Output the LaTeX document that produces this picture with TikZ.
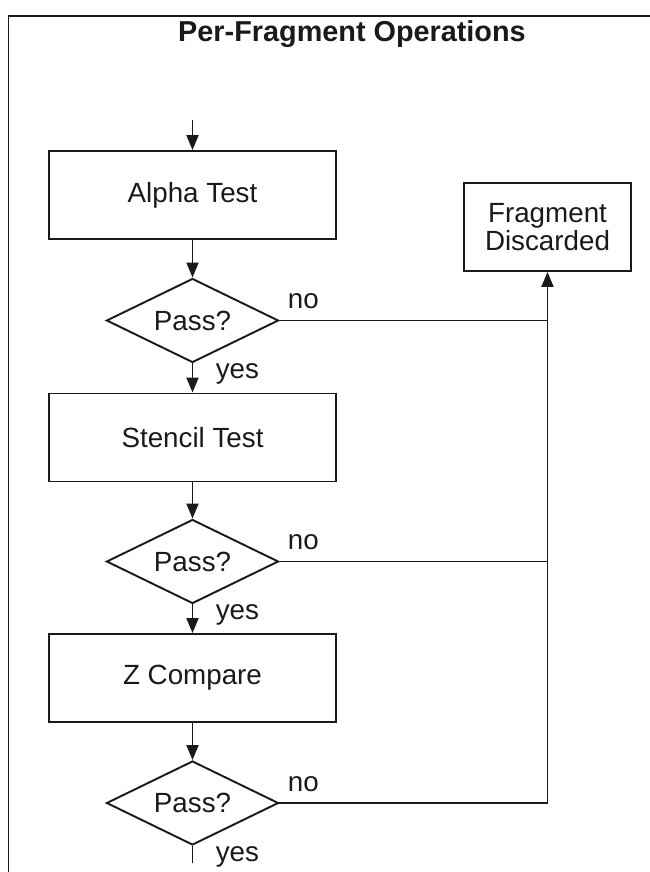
\documentclass[tikz,border=0pt]{standalone}
\usepackage{fontspec}
\setmainfont{Liberation Sans}
\usetikzlibrary{arrows.meta,positioning,shapes.geometric}
\definecolor{ink}{HTML}{1A1A1A}
\newcommand{\boxfont}{\fontsize{15.8}{15.5}\selectfont}
\tikzset{
  stage/.style={rectangle,draw=ink,line width=1.1pt,minimum width=5.74cm,minimum height=1.76cm,font=\boxfont,text=ink},
  sink/.style={rectangle,draw=ink,line width=1.1pt,minimum width=3.34cm,minimum height=1.76cm,align=center,font=\boxfont,text=ink},
  check/.style={diamond,aspect=2.05,draw=ink,line width=1.1pt,minimum width=3.44cm,minimum height=1.68cm,inner sep=0pt,font=\boxfont,text=ink},
  arrow/.style={-{Triangle[length=3mm,width=2.4mm]},line width=1.1pt,ink},
  wire/.style={line width=1.1pt,ink},
  answer/.style={inner sep=0pt,font=\boxfont,text=ink},
  heading/.style={font=\fontsize{16.4}{18}\selectfont\bfseries,text=ink}
}

\begin{document}
\begin{tikzpicture}
  \useasboundingbox (0,0) rectangle (13,-17.44);
  % frame, cut by the page on the right and at the bottom
  \draw[wire] (0.17,-17.44) -- (0.17,-0.32) -- (13,-0.32);
  \node[heading] (title) at (7.04,-0.68) {Per-Fragment Operations};

  \coordinate (in) at (3.85,-2.4);
  \node[stage] (alpha) at (3.85,-3.9) {Alpha Test};
  \node[check] (pass1) at (3.85,-6.41) {Pass?};
  \node[stage] (stencil) at (3.85,-8.75) {Stencil Test};
  \node[check] (pass2) at (3.85,-11.23) {Pass?};
  \node[stage] (zcomp) at (3.85,-13.56) {Z Compare};
  \node[check] (pass3) at (3.85,-16.06) {Pass?};
  \coordinate (out) at (3.85,-17.26);
  \node[sink] (discard) at (10.95,-4.54) {Fragment\\Discarded};

  \node[answer,above right=0.22cm and 0.16cm of pass1.east] (no1) {no};
  \node[answer,above right=0.22cm and 0.16cm of pass2.east] (no2) {no};
  \node[answer,above right=0.22cm and 0.16cm of pass3.east] (no3) {no};
  \node[answer,below right=0cm and 0.46cm of pass1.south] (yes1) {yes};
  \node[answer,below right=0cm and 0.46cm of pass2.south] (yes2) {yes};
  \node[answer,below right=0cm and 0.46cm of pass3.south] (yes3) {yes};

  \draw[arrow] (in) -- (alpha);
  \draw[arrow] (alpha) -- (pass1);
  \draw[arrow] (pass1) -- (stencil);
  \draw[arrow] (stencil) -- (pass2);
  \draw[arrow] (pass2) -- (zcomp);
  \draw[arrow] (zcomp) -- (pass3);
  \draw[wire] (pass3) -- (out);

  \draw[wire] (pass1.east) -- (pass1.east -| discard.south);
  \draw[wire] (pass2.east) -- (pass2.east -| discard.south);
  \draw[arrow] (pass3.east) -| (discard.south);
\end{tikzpicture}
\end{document}
